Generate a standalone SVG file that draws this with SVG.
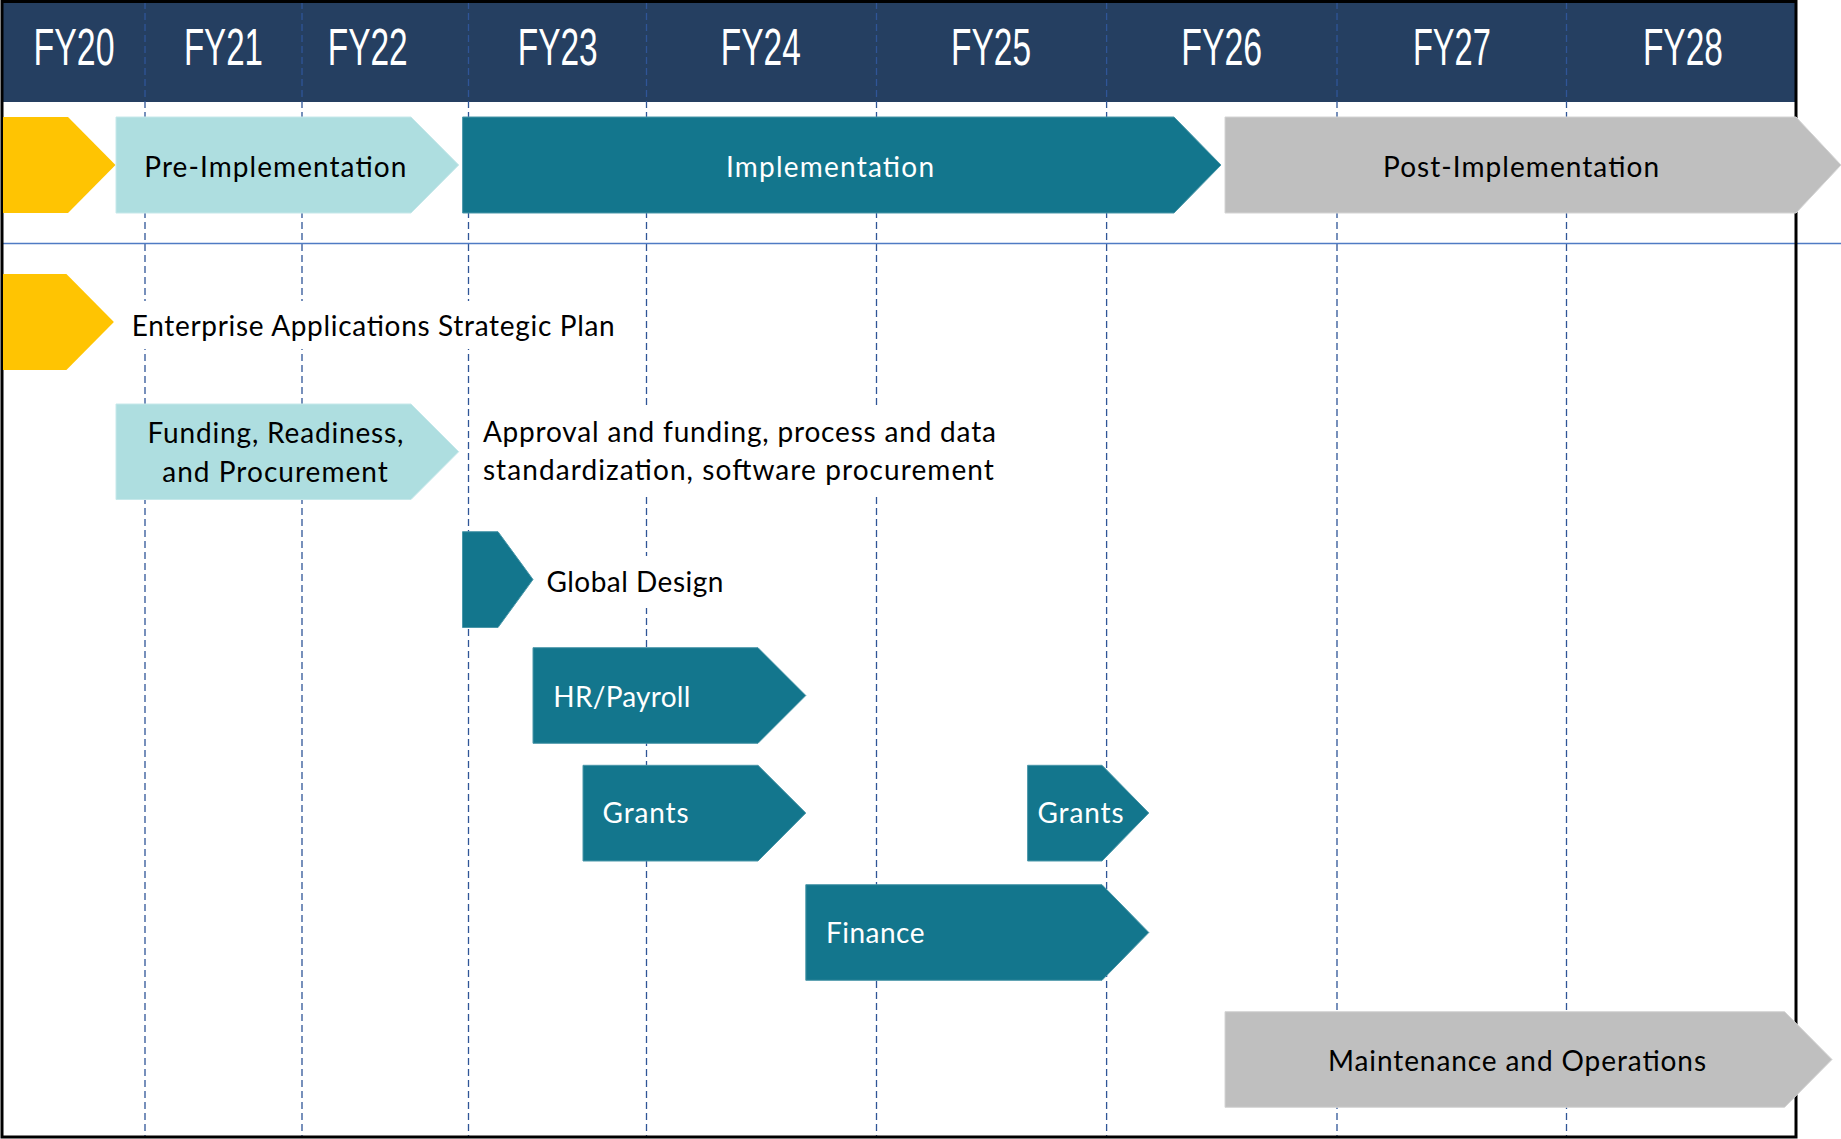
<svg xmlns="http://www.w3.org/2000/svg" width="1841" height="1139" viewBox="0 0 1841 1139">
  <style>
    .hdr { fill: #253F61; }
    .yr { font-family: "Liberation Sans Narrow", "Liberation Sans", Arial, sans-serif; font-size: 51px; fill: #FFFFFF; text-anchor: middle; }
    .grid { stroke: #2F5597; stroke-width: 1.3; stroke-dasharray: 7 4; fill: none; }
    .sep { stroke: #4F7BC4; stroke-width: 1.6; }
    .frame { fill: none; stroke: #000000; stroke-width: 3; }
    .gold { fill: #FFC402; }
    .light { fill: #AEDEE0; stroke: #C6E8EA; stroke-width: 1; }
    .teal { fill: #13768D; stroke: #4A97A9; stroke-width: 1; }
    .gray { fill: #BFBFBF; stroke: #D4D4D4; stroke-width: 1; }
    .bg { fill: #FFFFFF; }
    .lbl { font-family: Lato, "Open Sans", "Liberation Sans", sans-serif; font-size: 28px; fill: #000000; }
    .wlbl { font-family: Lato, "Open Sans", "Liberation Sans", sans-serif; font-size: 28px; fill: #FFFFFF; }
  </style>

  <!-- page background -->
  <rect x="0" y="0" width="1841" height="1139" fill="#FFFFFF"/>

  <!-- fiscal-year header band -->
  <rect class="hdr" x="2" y="1" width="1794" height="101"/>

  <!-- year dividers and phase separator -->
  <g id="grid">
    <line class="grid" x1="145" y1="2" x2="145" y2="1137"/>
    <line class="grid" x1="302" y1="2" x2="302" y2="1137"/>
    <line class="grid" x1="468.5" y1="2" x2="468.5" y2="1137"/>
    <line class="grid" x1="646.5" y1="2" x2="646.5" y2="1137"/>
    <line class="grid" x1="876.5" y1="2" x2="876.5" y2="1137"/>
    <line class="grid" x1="1106.6" y1="2" x2="1106.6" y2="1137"/>
    <line class="grid" x1="1337" y1="2" x2="1337" y2="1137"/>
    <line class="grid" x1="1566.5" y1="2" x2="1566.5" y2="1137"/>
    <line class="sep" x1="3" y1="243.5" x2="1841" y2="243.5"/>
  </g>

  <!-- outer frame -->
  <rect class="frame" x="2" y="1.5" width="1794" height="1135.5"/>

  <!-- year labels -->
  <g id="years">
    <text class="yr" x="74" y="65" textLength="81" lengthAdjust="spacingAndGlyphs">FY20</text>
    <text class="yr" x="223.4" y="65" textLength="79" lengthAdjust="spacingAndGlyphs">FY21</text>
    <text class="yr" x="367.7" y="65" textLength="80" lengthAdjust="spacingAndGlyphs">FY22</text>
    <text class="yr" x="557.7" y="65" textLength="80" lengthAdjust="spacingAndGlyphs">FY23</text>
    <text class="yr" x="760.8" y="65" textLength="80" lengthAdjust="spacingAndGlyphs">FY24</text>
    <text class="yr" x="991" y="65" textLength="80" lengthAdjust="spacingAndGlyphs">FY25</text>
    <text class="yr" x="1221.7" y="65" textLength="81" lengthAdjust="spacingAndGlyphs">FY26</text>
    <text class="yr" x="1451.9" y="65" textLength="78" lengthAdjust="spacingAndGlyphs">FY27</text>
    <text class="yr" x="1682.9" y="65" textLength="80" lengthAdjust="spacingAndGlyphs">FY28</text>
  </g>

  <!-- phase row -->
  <g id="phase-start">
    <path class="gold" d="M3,117 H68 L115.5,165 L68,213 H3 Z"/>
  </g>
  <g id="phase-pre">
    <path class="light" d="M116,117 H411 L458.7,165 L411,213 H116 Z"/>
    <text class="lbl" x="144.3" y="176.5" textLength="262">Pre-Implementation</text>
  </g>
  <g id="phase-impl">
    <path class="teal" d="M462.6,117 H1174 L1221,165 L1174,213 H462.6 Z"/>
    <text class="wlbl" x="726" y="176.5" textLength="208">Implementation</text>
  </g>
  <g id="phase-post">
    <path class="gray" d="M1225,117 H1796 L1841,165 L1796,213 H1225 Z"/>
    <text class="lbl" x="1383" y="176.5" textLength="276">Post-Implementation</text>
  </g>

  <!-- workstreams -->
  <g id="strategic-plan">
    <path class="gold" d="M3,274 H66.4 L113.9,322 L66.4,370 H3 Z"/>
    <rect class="bg" x="122" y="301" width="505" height="48"/>
    <text class="lbl" x="131.7" y="336" textLength="483">Enterprise Applications Strategic Plan</text>
  </g>

  <g id="funding">
    <path class="light" d="M116,404 H411 L458.7,451.7 L411,499.5 H116 Z"/>
    <text class="lbl" x="275.4" y="442.7" textLength="256" text-anchor="middle">Funding, Readiness,</text>
    <text class="lbl" x="275" y="481.7" textLength="225.5" text-anchor="middle">and Procurement</text>
  </g>

  <g id="funding-note">
    <rect class="bg" x="474" y="406" width="530" height="90"/>
    <text class="lbl" x="482.9" y="441.7" textLength="513">Approval and funding, process and data</text>
    <text class="lbl" x="482.9" y="480" textLength="511">standardization, software procurement</text>
  </g>

  <g id="global-design">
    <path class="teal" d="M462.5,531.7 H498 L533,579.5 L498,627.5 H462.5 Z"/>
    <rect class="bg" x="538" y="556" width="195" height="52"/>
    <text class="lbl" x="546.4" y="592.3" textLength="177">Global Design</text>
  </g>

  <g id="hr-payroll">
    <path class="teal" d="M533,647.7 H758 L805.8,695.5 L758,743.3 H533 Z"/>
    <text class="wlbl" x="553.3" y="707.3" textLength="137">HR/Payroll</text>
  </g>

  <g id="grants-1">
    <path class="teal" d="M583,765.3 H758 L805.8,813 L758,861 H583 Z"/>
    <text class="wlbl" x="602.6" y="823.3" textLength="86">Grants</text>
  </g>

  <g id="grants-2">
    <path class="teal" d="M1027.6,765.3 H1102 L1148.8,813 L1102,861 H1027.6 Z"/>
    <text class="wlbl" x="1037.5" y="823.3" textLength="86">Grants</text>
  </g>

  <g id="finance">
    <path class="teal" d="M805.8,884.7 H1102 L1148.8,932.5 L1102,980.3 H805.8 Z"/>
    <text class="wlbl" x="826" y="943.3" textLength="98.5">Finance</text>
  </g>

  <g id="maintenance">
    <path class="gray" d="M1225,1011.7 H1784.6 L1832,1059.5 L1784.6,1107.3 H1225 Z"/>
    <text class="lbl" x="1328" y="1070.7" textLength="378">Maintenance and Operations</text>
  </g>
</svg>
